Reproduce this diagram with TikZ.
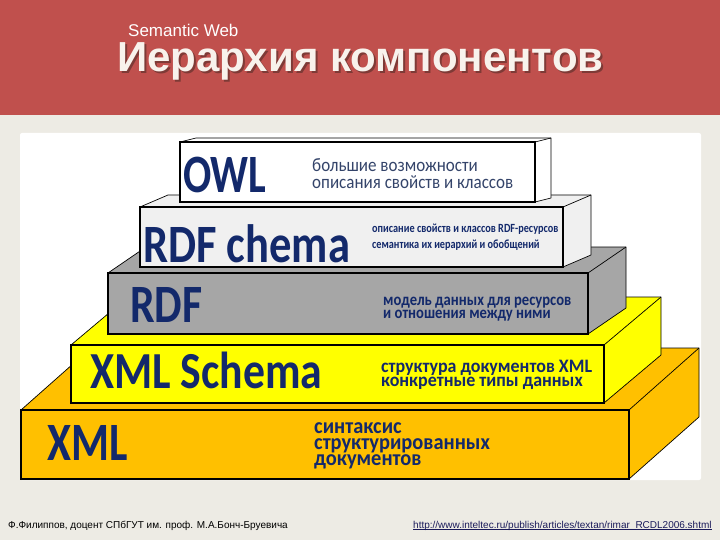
\documentclass[tikz,border=0pt]{standalone}
\usepackage{fontspec}
\usepackage{graphicx}
\setmainfont{Carlito}
\newfontfamily\arialf{Liberation Sans}
\definecolor{hdr}{HTML}{C0504D}
\definecolor{bgc}{HTML}{EDEBE4}
\definecolor{navy}{HTML}{13296B}
\definecolor{descgray}{HTML}{34446A}
\definecolor{shadowc}{HTML}{7E3A36}
\definecolor{titlec}{HTML}{F8F2EC}
\definecolor{owlfill}{HTML}{FFFFFF}
\definecolor{rdfcfill}{HTML}{F0F0F0}
\definecolor{grayfill}{HTML}{A6A6A6}
\definecolor{yelfill}{HTML}{FFFF00}
\definecolor{orafill}{HTML}{FFC000}
\definecolor{linkc}{HTML}{1A1A5A}
\newcommand{\layerbox}[7]{%
  \fill[#1] (#2,#3) -- ++(#6,#7) -- (#4+#6,#3+#7) -- (#4+#6,#5+#7) -- (#4,#5) -- (#2,#5) -- cycle;
  \draw[boxedge] (#2,#3) -- ++(#6,#7) -- (#4+#6,#3+#7) -- (#4+#6,#5+#7) -- (#4,#5);
  \draw[boxedge] (#4,#3) -- (#4+#6,#3+#7);
  \draw[boxfront] (#2,#3) rectangle (#4,#5);
}
\newcommand{\sq}[2][0.8]{\scalebox{#1}[1]{#2}}
\tikzset{
  boxedge/.style={draw=black, line width=0.7pt, line join=round},
  boxfront/.style={draw=black, line width=1.1pt},
  biglab/.style={anchor=base west, inner sep=0pt, text=navy, font=\fontsize{54}{60}\selectfont\bfseries},
  desc/.style={anchor=base west, inner sep=0pt, text=navy},
  hdrtext/.style={anchor=base west, inner sep=0pt},
}
\begin{document}
\begin{tikzpicture}[x=1pt,y=-1pt]
\useasboundingbox (0,0) rectangle (720,540);
\fill[bgc] (0,0) rectangle (720,540);
\fill[hdr] (0,0) rectangle (720,115);
\fill[white, rounded corners=2pt] (20,133) rectangle (701,480);
% header
\node[hdrtext, text=white, font=\arialf\fontsize{17}{20}\selectfont] (sw) at (128,37) {Semantic Web};
\node[hdrtext, text=shadowc, font=\arialf\bfseries\fontsize{42}{48}\selectfont] (titlesh) at (119,74) {Иерархия компонентов};
\node[hdrtext, text=titlec, font=\arialf\bfseries\fontsize{42}{48}\selectfont] (title) at (117,72) {Иерархия компонентов};
% boxes, bottom first
\layerbox{orafill}{21}{410}{629}{479}{70}{-62}
\layerbox{yelfill}{71}{345}{604}{403}{57}{-48}
\layerbox{grayfill}{108}{273}{588}{334}{38}{-26}
\layerbox{rdfcfill}{140}{207}{563}{267}{28}{-12}
\layerbox{owlfill}{180}{142}{535}{202}{16}{-4}
% labels
\node[biglab] (owl) at (183,193) {\sq[0.775]{OWL}};
\node[biglab] (rdfc) at (143,262) {\sq[0.825]{RDF chema}};
\node[biglab] (rdf) at (130,322) {\sq[0.81]{RDF}};
\node[biglab, font=\fontsize{52}{58}\selectfont\bfseries] (xmls) at (90,388) {\sq[0.84]{XML Schema}};
\node[biglab] (xml) at (47,460) {\sq[0.805]{XML}};
% descriptions
\node[desc, text=descgray, font=\fontsize{19}{21}\selectfont] (owlA) at (312,172) {\sq[0.895]{большие возможности}};
\node[desc, text=descgray, font=\fontsize{19}{21}\selectfont] (owlB) at (312,189) {\sq[0.895]{описания свойств и классов}};
\node[desc, font=\fontsize{12.5}{14}\selectfont\bfseries] (rdfcA) at (372,233) {\sq[0.82]{описание свойств и классов RDF-ресурсов}};
\node[desc, font=\fontsize{12.5}{14}\selectfont\bfseries] (rdfcB) at (372,248) {\sq[0.82]{семантика их иерархий и обобщений}};
\node[desc, font=\fontsize{17}{19}\selectfont\bfseries] (rdfA) at (383,305) {\sq[0.86]{модель данных для ресурсов}};
\node[desc, font=\fontsize{17}{19}\selectfont\bfseries] (rdfB) at (383,318) {\sq[0.86]{и отношения между ними}};
\node[desc, font=\fontsize{19}{21}\selectfont\bfseries] (xmlsA) at (381,372) {\sq[0.945]{структура документов XML}};
\node[desc, font=\fontsize{19}{21}\selectfont\bfseries] (xmlsB) at (381,386) {\sq[0.945]{конкретные типы данных}};
\node[desc, font=\fontsize{22}{24}\selectfont\bfseries] (xmlA) at (314,433) {\sq[0.93]{синтаксис}};
\node[desc, font=\fontsize{22}{24}\selectfont\bfseries] (xmlB) at (314,449) {\sq[0.93]{структурированных}};
\node[desc, font=\fontsize{22}{24}\selectfont\bfseries] (xmlC) at (314,465) {\sq[0.93]{документов}};
% footer
\node[hdrtext, text=black, font=\arialf\fontsize{10}{12}\selectfont] (author) at (8,528) {Ф.Филиппов, доцент СПбГУТ им. проф. М.А.Бонч-Бруевича};
\node[hdrtext, text=linkc, font=\arialf\fontsize{10}{12}\selectfont] (link) at (413,528) {http://www.inteltec.ru/publish/articles/textan/rimar\_RCDL2006.shtml};
\draw[linkc, line width=0.5pt] ([yshift=-1.2pt]link.base west) -- ([yshift=-1.2pt]link.base east);
\end{tikzpicture}
\end{document}
